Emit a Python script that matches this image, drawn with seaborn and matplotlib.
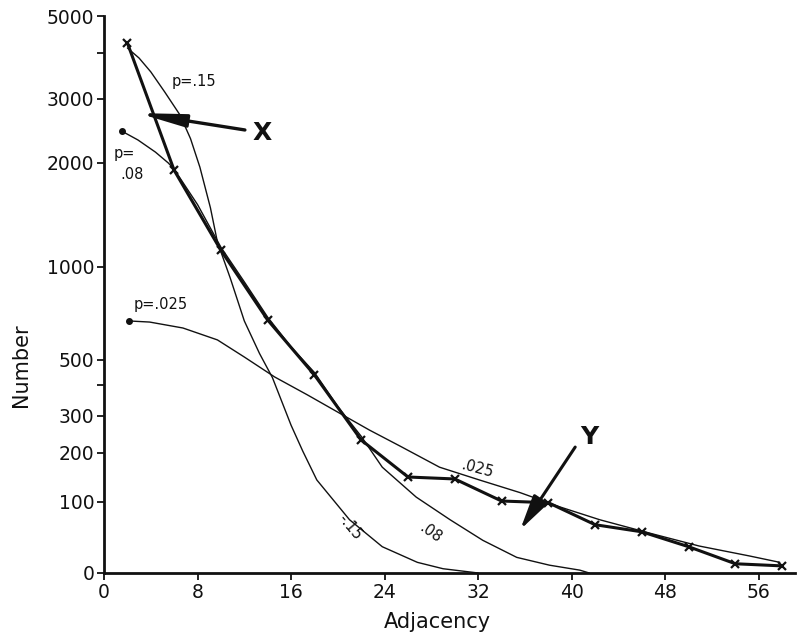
import numpy as np
import pandas as pd
import matplotlib
matplotlib.use("Agg")
import matplotlib.pyplot as plt
import seaborn as sns

# observed counts (thick line with x markers)
adj_obs = [2, 6, 10, 14, 18, 22, 26, 30, 34, 38, 42, 46, 50, 54, 58]
num_obs = [4270, 1930, 1160, 715, 440, 235, 151, 147, 102, 99, 68, 58, 37, 13, 10]

# fitted curves
adj_p15 = [2, 3, 4, 5.2, 6.5, 7.4, 8.2, 9.1, 9.7, 10.8, 12, 13.3, 14.4, 16, 17,
           18.2, 21, 23.8, 26.8, 29, 31.5, 32]
num_p15 = [4135, 3890, 3590, 3150, 2750, 2380, 1960, 1570, 1240, 940, 710, 535, 430,
           275, 205, 145, 75, 37, 15, 6, 1, 0]

adj_p08 = [1.5, 2.9, 4.4, 5.5, 6, 8, 10, 12, 14, 16, 18, 20, 22, 23.8, 26.7, 29.6,
           32.4, 35.3, 38.1, 40.7, 41.5]
num_p08 = [2500, 2360, 2170, 2000, 1940, 1600, 1190, 920, 730, 570, 450, 330, 245,
           171, 110, 75, 46, 22, 11, 4, 0]

adj_p025 = [2.1, 3.9, 6.75, 9.7, 12, 14.6, 17.4, 20.2, 22.7, 25.3, 28.7, 32.1, 35.6,
            39, 42.4, 46.7, 50.9, 55.2, 57.8]
num_p025 = [710, 704, 672, 608, 516, 432, 368, 308, 262, 219, 171, 145, 119, 93, 75,
            56, 38, 24, 15]

y_ticks = [0, 100, 200, 300, 400, 500, 1000, 2000, 3000, 4000, 5000]
y_labels = ["0", "100", "200", "300", "", "500", "1000", "2000", "3000", "", "5000"]
x_ticks = [0, 8, 16, 24, 32, 40, 48, 56]

# uneven vertical axis of the original, as fraction of axis height
y_pos = (573 - np.array([573, 502, 453, 416, 385, 360, 267, 163, 99, 53, 16])) / 557.0


def fwd(v):
    return np.interp(v, y_ticks, y_pos)


def inv(p):
    return np.interp(p, y_pos, y_ticks)


sns.set_style("ticks")
plt.rcParams['font.family'] = ['DejaVu Sans']

fig = plt.figure(figsize=(7.97, 6.4), dpi=100)
ax = fig.add_axes([0.1305, 0.1047, 0.867, 0.8703])
ax.set_yscale('function', functions=(fwd, inv))

ink = '#111111'
for xs, ys in [(adj_p15, num_p15), (adj_p08, num_p08), (adj_p025, num_p025)]:
    sns.lineplot(x=xs, y=ys, ax=ax, color=ink, lw=1.0, sort=False)
ax.plot(adj_p08[0], num_p08[0], 'o', color=ink, ms=4)
ax.plot(adj_p025[0], num_p025[0], 'o', color=ink, ms=4)

sns.lineplot(x=adj_obs, y=num_obs, ax=ax, color=ink, lw=2.2, marker='x',
             markersize=6, markeredgewidth=1.6, markeredgecolor=ink)

# annotations
ax.annotate('', xy=(2.9, 2780), xytext=(12.05, 2516),
            arrowprops=dict(arrowstyle='-|>,head_length=1.1,head_width=0.15',
                            color=ink, lw=2.4, mutation_scale=25,
                            shrinkA=0, shrinkB=0))
ax.text(12.7, 2469, 'X', fontsize=18, fontweight='bold', va='center', color=ink)
ax.annotate('', xy=(35.6, 61), xytext=(40.3, 216),
            arrowprops=dict(arrowstyle='-|>,head_length=0.85,head_width=0.2',
                            color=ink, lw=2.2, mutation_scale=25,
                            shrinkA=0, shrinkB=0))
ax.text(40.7, 243, 'Y', fontsize=18, fontweight='bold', va='center', color=ink)

ax.text(5.8, 3370, 'p=.15', fontsize=10.5, va='center', color=ink)
ax.text(0.85, 2156, 'p=', fontsize=10.5, va='center', color=ink)
ax.text(1.37, 1885, '.08', fontsize=10.5, va='center', color=ink)
ax.text(2.5, 801, 'p=.025', fontsize=10.5, va='center', color=ink)
ax.text(21.0, 65, '-.15', fontsize=10.5, rotation=-50, ha='center', va='center', color=ink)
ax.text(27.9, 56, '.08', fontsize=10.5, rotation=-35, ha='center', va='center', color=ink)
ax.text(31.9, 168, '.025', fontsize=10.5, rotation=-15, ha='center', va='center', color=ink)

ax.set_xlim(0, 59.1)
ax.set_ylim(0, 5000)
ax.set_xticks(x_ticks)
ax.set_yticks(y_ticks)
ax.set_yticklabels(y_labels)
ax.tick_params(axis='both', labelsize=13.5, colors=ink, length=5, width=1.3, pad=2)
ax.set_xlabel('Adjacency', fontsize=15, color=ink)
ax.set_ylabel('Number', fontsize=15, color=ink)
ax.xaxis.set_label_coords(0.483, -0.07)
ax.yaxis.set_label_coords(-0.105, 0.373)
sns.despine(ax=ax)
for s in ['left', 'bottom']:
    ax.spines[s].set_linewidth(2.0)
    ax.spines[s].set_color(ink)

fig.savefig('out.png', dpi=100)
